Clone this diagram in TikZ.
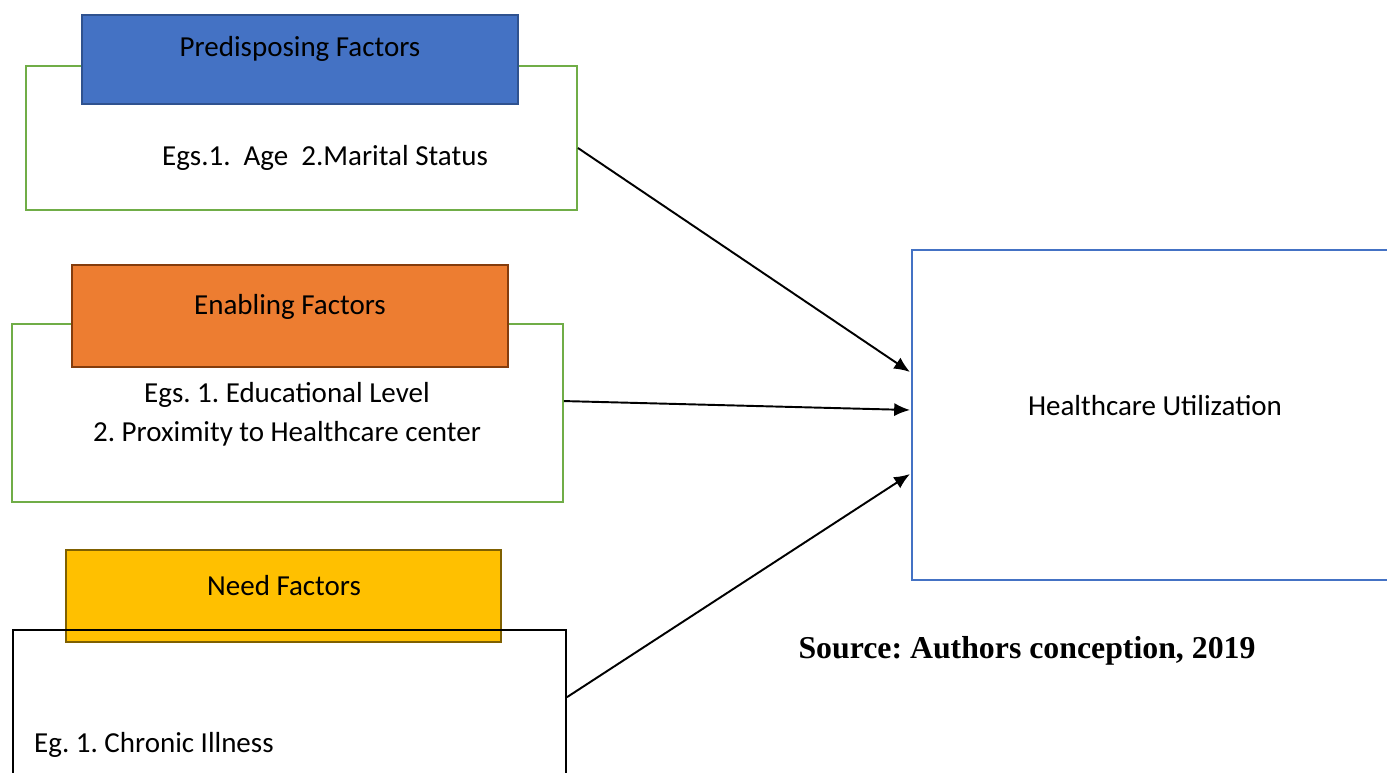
\documentclass[tikz,border=0pt]{standalone}
\usepackage{xcolor}
\usepackage{fontspec}
\setmainfont{Carlito}
\newfontfamily\sourcefont{Liberation Serif}
\usepackage{tikz}
\usetikzlibrary{arrows.meta}
\definecolor{vertcadre}{HTML}{70AD47}
\definecolor{bleuent}{HTML}{4472C4}
\definecolor{bleubord}{HTML}{2F528F}
\definecolor{orangeent}{HTML}{ED7D31}
\definecolor{orangebord}{HTML}{843C0C}
\definecolor{jauneent}{HTML}{FFC000}
\definecolor{jaunebord}{HTML}{7F6000}
\frenchspacing

\begin{document}
\begin{tikzpicture}[x=0.02cm,y=-0.02cm]
    % Styles (MODIFIABLES)
    \tikzstyle{fleche}=[-{Latex[length=9pt,width=7.5pt]},line width=1.1pt]
    \tikzstyle{cadre}=[draw,line width=1.1pt,inner sep=0pt]
    \tikzstyle{entete}=[cadre,line width=1.3pt]
    \tikzstyle{texte}=[font=\fontsize{16.5}{22}\selectfont,align=center]
    % Dimensions (MODIFIABLES)
    \def\Unite{0.02cm}
    % Zone visible
    \clip (0,0) rectangle (1387,772);
    \useasboundingbox (0,0) rectangle (1387,772);
    % Cadres
    \node[cadre,vertcadre,minimum width={551*\Unite},minimum height={144*\Unite}] (Pred) at (301.5,138) {};
    \node[entete,fill=bleuent,draw=bleubord,minimum width={436*\Unite},minimum height={89*\Unite}] (PredT) at (300,59.5) {};
    \node[cadre,vertcadre,minimum width={551*\Unite},minimum height={178*\Unite}] (Enab) at (287.5,413) {};
    \node[entete,fill=orangeent,draw=orangebord,minimum width={436*\Unite},minimum height={102*\Unite}] (EnabT) at (290,316) {};
    \node[entete,fill=jauneent,draw=jaunebord,minimum width={435*\Unite},minimum height={92*\Unite}] (NeedT) at (283.5,596) {};
    \node[cadre,black,minimum width={553*\Unite},minimum height={180*\Unite}] (Need) at (289.5,720) {};
    \node[cadre,bleuent,minimum width={520*\Unite},minimum height={330*\Unite}] (Util) at (1172,415) {};
    % Textes
    \node[texte] (PredL) at (300,49) {Predisposing Factors};
    \node[texte] (PredE) at (325,158) {Egs.1.\ \ Age\ \ 2.Marital Status};
    \node[texte] (EnabL) at (290,307) {Enabling Factors};
    \node[texte] (EnabE) at (287,414) {Egs. 1. Educational Level\\2. Proximity to Healthcare center};
    \node[texte] (NeedL) at (284,586) {Need Factors};
    \node[texte,anchor=west] (NeedE) at (28,745) {Eg. 1. Chronic Illness};
    \node[texte] (UtilL) at (1155,406) {Healthcare Utilization};
    \node[font=\sourcefont\bfseries\fontsize{18.1}{22}\selectfont] (Source) at (1027,651) {Source: Authors conception, 2019};
    % Points d'arrivee
    \coordinate (UtilA) at (910,372);
    \coordinate (UtilB) at (910,410);
    \coordinate (UtilC) at (910,474);
    % Arcs
    \draw[fleche] ([yshift=-5.7pt]Pred.east) -- (UtilA);
    \draw[fleche] ([yshift=6.8pt]Enab.east) -- (UtilB);
    \draw[fleche] ([yshift=13pt]Need.east) -- (UtilC);
\end{tikzpicture}
\end{document}
